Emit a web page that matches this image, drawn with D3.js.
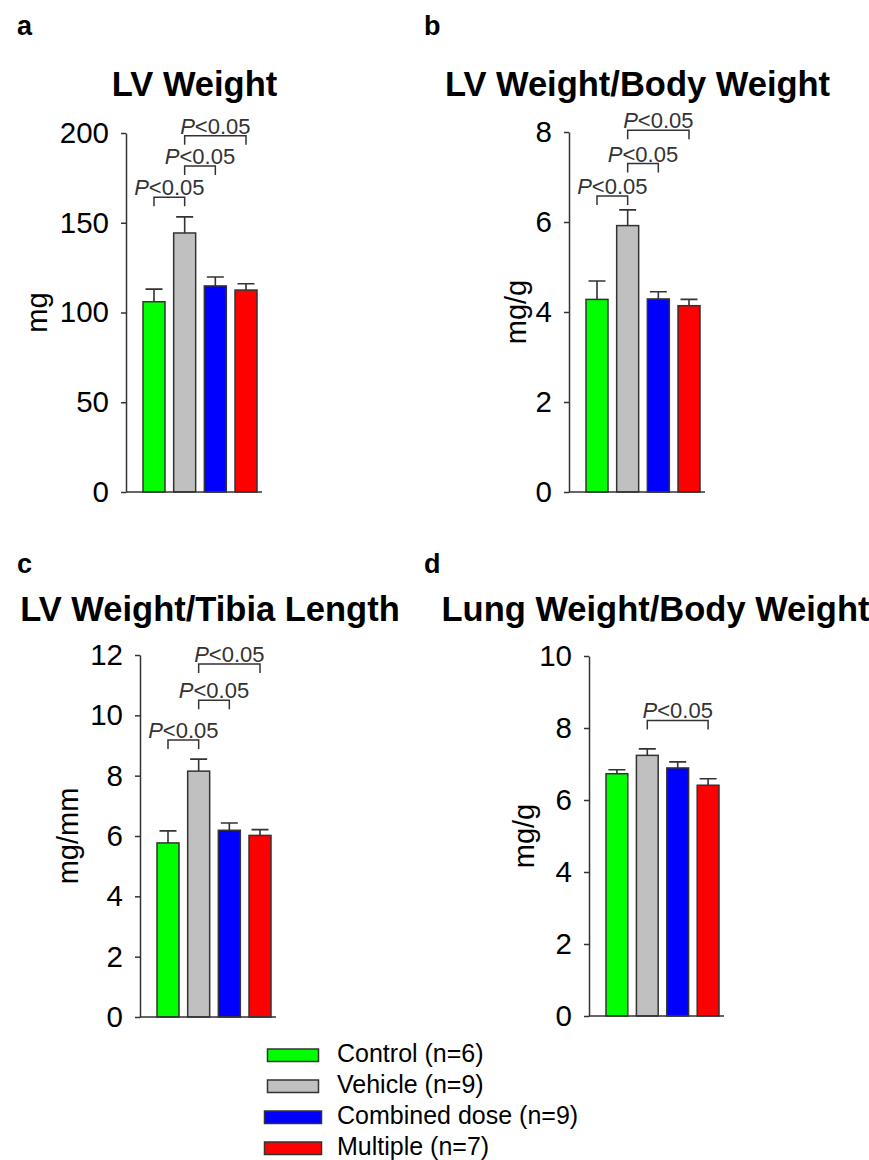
<!DOCTYPE html>
<html>
<head>
<meta charset="utf-8">
<script src="https://cdn.jsdelivr.net/npm/d3@7"></script>
<style>
  body { margin: 0; background: #fff; }
  svg { display: block; font-family: "Liberation Sans", Arial, sans-serif; }
</style>
</head>
<body>
<svg id="chart" width="869" height="1160"></svg>
<script>
// groups and legend
var groups = ["Control", "Vehicle", "Combined dose", "Multiple"]
var legendLabels = ["Control (n=6)", "Vehicle (n=9)", "Combined dose (n=9)", "Multiple (n=7)"]
var colors = ["#00ff00", "#c0c0c0", "#0000ff", "#ff0000"]

// panel a - LV weight (mg)
var lvMean = [106, 144.3, 114.8, 112.5]
var lvErr = [7, 9, 5, 3.5]
var lvTicks = [0, 50, 100, 150, 200]
var lvBrackets = [[0, 1, 164.2], [1, 2, 181.6], [1, 3, 198.5]]

// panel b - LV weight / body weight (mg/g)
var lvbwMean = [4.28, 5.92, 4.29, 4.14]
var lvbwErr = [0.41, 0.35, 0.16, 0.14]
var lvbwTicks = [0, 2, 4, 6, 8]
var lvbwBrackets = [[0, 1, 6.58], [1, 2, 7.30], [1, 3, 8.04]]

// panel c - LV weight / tibia length (mg/mm)
var lvtlMean = [5.77, 8.15, 6.19, 6.02]
var lvtlErr = [0.40, 0.40, 0.24, 0.19]
var lvtlTicks = [0, 2, 4, 6, 8, 10, 12]
var lvtlBrackets = [[0, 1, 9.18], [1, 2, 10.5], [1, 3, 11.7]]

// panel d - lung weight / body weight (mg/g)
var lungMean = [6.73, 7.24, 6.89, 6.41]
var lungErr = [0.11, 0.18, 0.17, 0.18]
var lungTicks = [0, 2, 4, 6, 8, 10]
var lungBrackets = [[1, 3, 8.21]]

var svg = d3.select("#chart")

var panels = [
    { letter: "a", title: "LV Weight", unit: "mg", mean: lvMean, err: lvErr, ticks: lvTicks, brackets: lvBrackets,
      x0: 126, x1: 262, yBottom: 492, yTop: 133, letterX: 17, letterY: 35, titleX: 194.5, titleY: 95.5, labelX: 37 },
    { letter: "b", title: "LV Weight/Body Weight", unit: "mg/g", mean: lvbwMean, err: lvbwErr, ticks: lvbwTicks, brackets: lvbwBrackets,
      x0: 569, x1: 705, yBottom: 492, yTop: 132, letterX: 424, letterY: 35, titleX: 637.5, titleY: 95.5, labelX: 516 },
    { letter: "c", title: "LV Weight/Tibia Length", unit: "mg/mm", mean: lvtlMean, err: lvtlErr, ticks: lvtlTicks, brackets: lvtlBrackets,
      x0: 140, x1: 276, yBottom: 1017, yTop: 655, letterX: 17, letterY: 573, titleX: 210, titleY: 620.5, labelX: 68 },
    { letter: "d", title: "Lung Weight/Body Weight", unit: "mg/g", mean: lungMean, err: lungErr, ticks: lungTicks, brackets: lungBrackets,
      x0: 589, x1: 724, yBottom: 1016, yTop: 656, letterX: 424, letterY: 573, titleX: 655.5, titleY: 620.5, labelX: 524 }
]

panels.forEach(function(p) {
    var g = svg.append("g")

    var xScale = d3.scaleBand()
        .domain(groups)
        .range([p.x0 + 17, p.x1 - 5])
        .paddingInner(0.283)
        .paddingOuter(0)

    var yScale = d3.scaleLinear()
        .domain([0, d3.max(p.ticks)])
        .range([p.yBottom, p.yTop])

    var data = groups.map((name, i) => ({ name: name, mean: p.mean[i], err: p.err[i], color: colors[i] }))

    // panel letter + title
    g.append("text")
        .attr("x", p.letterX)
        .attr("y", p.letterY)
        .style("font-size", "27px")
        .style("font-weight", "bold")
        .text(p.letter)

    g.append("text")
        .attr("x", p.titleX)
        .attr("y", p.titleY)
        .attr("text-anchor", "middle")
        .style("font-size", "34.5px")
        .style("font-weight", "bold")
        .text(p.title)

    // error bars (upper only)
    var cap = 8.5
    g.selectAll(".err")
        .data(data)
        .enter()
        .append("path")
        .attr("d", d => {
            var cx = xScale(d.name) + xScale.bandwidth() / 2
            var top = yScale(d.mean + d.err)
            return `M${cx},${yScale(d.mean)}V${top}M${cx - cap},${top}H${cx + cap}`
        })
        .attr("fill", "none")
        .attr("stroke", "#333")
        .attr("stroke-width", 1.6)

    // bars
    g.selectAll(".bar")
        .data(data)
        .enter()
        .append("rect")
        .attr("x", d => xScale(d.name))
        .attr("y", d => yScale(d.mean))
        .attr("width", xScale.bandwidth())
        .attr("height", d => yScale(0) - yScale(d.mean))
        .attr("fill", d => d.color)
        .attr("stroke", "#333")
        .attr("stroke-width", 1.5)

    // y axis
    var yAxisgen = d3.axisLeft(yScale)
        .tickValues(p.ticks)
        .tickSize(5)
        .tickSizeOuter(0)
        .tickPadding(12)
        .tickFormat(d3.format("d"))

    var yAxis = g.append("g")
        .attr("transform", `translate(${p.x0},0)`)
        .call(yAxisgen)
    yAxis.select(".domain").attr("stroke", "#333").attr("stroke-width", 1.5)
    yAxis.selectAll(".tick line").attr("stroke", "#333").attr("stroke-width", 1.5)
    yAxis.selectAll(".tick text")
        .attr("fill", "#000")
        .style("font-size", "29.5px")
        .style("font-family", "'Liberation Sans', Arial, sans-serif")

    // x axis baseline
    g.append("line")
        .attr("x1", p.x0)
        .attr("x2", p.x1)
        .attr("y1", yScale(0))
        .attr("y2", yScale(0))
        .attr("stroke", "#333")
        .attr("stroke-width", 1.5)

    // y label
    g.append("text")
        .attr("transform", `translate(${p.labelX},${(p.yTop + p.yBottom) / 2}) rotate(-90)`)
        .attr("text-anchor", "middle")
        .attr("dominant-baseline", "central")
        .style("font-size", "29px")
        .text(p.unit)

    // significance brackets
    p.brackets.forEach(function(b) {
        var xa = xScale(groups[b[0]]) + xScale.bandwidth() / 2
        var xb = xScale(groups[b[1]]) + xScale.bandwidth() / 2
        var yb = yScale(b[2])
        g.append("path")
            .attr("d", `M${xa},${yb + 9}V${yb}H${xb}V${yb + 9}`)
            .attr("fill", "none")
            .attr("stroke", "#333")
            .attr("stroke-width", 1.5)
        var t = g.append("text")
            .attr("x", (xa + xb) / 2)
            .attr("y", yb - 2)
            .attr("text-anchor", "middle")
            .attr("fill", "#333")
            .style("font-size", "22px")
        t.append("tspan").style("font-style", "italic").text("P")
        t.append("tspan").text("<0.05")
    })
})

// legend
var legendBoxW = [51, 51, 57, 57]
var legend = svg.append("g")
legendLabels.forEach(function(label, i) {
    var baseY = 1062 + i * 31
    legend.append("rect")
        .attr("x", 293 - legendBoxW[i] / 2)
        .attr("y", baseY - 13)
        .attr("width", legendBoxW[i])
        .attr("height", 12.5)
        .attr("fill", colors[i])
        .attr("stroke", "#333")
        .attr("stroke-width", 1.5)
    legend.append("text")
        .attr("x", 337)
        .attr("y", baseY)
        .style("font-size", "25px")
        .text(label)
})
</script>
</body>
</html>
